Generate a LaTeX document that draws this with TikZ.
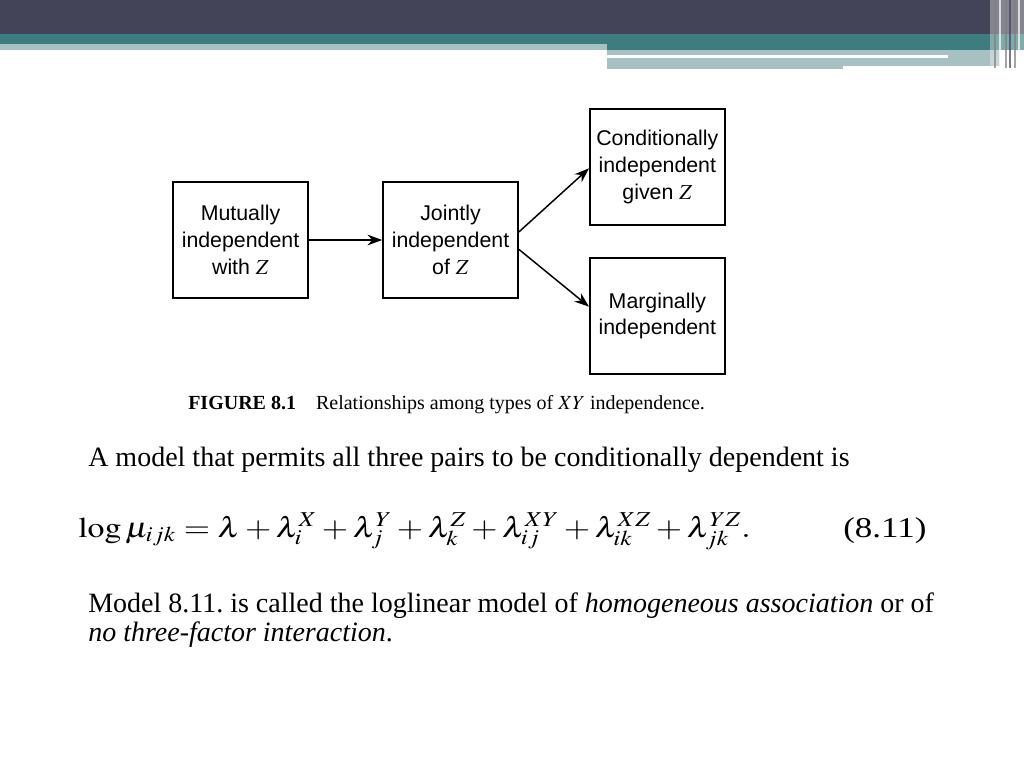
\documentclass[tikz,border=0pt]{standalone}
\usepackage{mathptmx}
\usepackage{fontspec}
\setmainfont{Liberation Serif}
\setsansfont{Liberation Sans}
\usetikzlibrary{positioning, arrows.meta}
\definecolor{barDark}{HTML}{434457}
\definecolor{barTeal}{HTML}{3E7D7F}
\definecolor{barLight}{HTML}{A7C1C3}
\tikzset{
    state_box/.style={draw, line width=1.5pt, minimum width=101pt, minimum height=87pt, inner sep=0pt, align=center, font=\sffamily\fontsize{16}{20}\selectfont},
    flow_arrow/.style={-{Stealth[length=11pt, width=8pt]}, line width=1.1pt, black},
    body_text/.style={anchor=base west, inner sep=0pt, font=\fontsize{21}{25}\selectfont},
    edge_line/.style={line width=1.2pt}
}
\frenchspacing

\begin{document}
\begin{tikzpicture}[x=0.75pt, y=-0.75pt]
    \useasboundingbox[fill=white] (0,0) rectangle (1024,768);
    % title bar
    \fill[barDark] (0,0) rectangle (1024,34);
    \fill[barTeal] (0,34) rectangle (607,44);
    \fill[barTeal] (607,34) rectangle (1024,50);
    \fill[barLight] (0,44) rectangle (607,50);
    \fill[barLight] (607,50) rectangle (1000,66);
    \fill[barLight] (607,58) rectangle (843,69);
    \fill[white] (607,55) rectangle (948,58);
    % edge lines
    \fill[white, opacity=0.35] (990,0) rectangle (1024,70);
    \foreach \x/\c in {995/gray, 1000/white, 1006/gray, 1010/barDark, 1015/gray, 1019/white}
        \draw[\c, edge_line, opacity=0.7] (\x,0) -- (\x,68);

    % figure 8.1
    \node[state_box] (mutual) at (240.5,240) {Mutually\\independent\\with $Z$};
    \node[state_box] (joint) at (450.5,240) {Jointly\\independent\\of $Z$};
    \node[state_box, anchor=north west] (cond) at (589,108) {Conditionally\\independent\\given $Z$};
    \node[state_box, anchor=north west] (marg) at (589,257) {Marginally\\independent};
    \draw[flow_arrow] (mutual) -- (joint);
    \draw[flow_arrow] ([yshift=6pt]joint.east) -- ([yshift=-1pt]cond.west);
    \draw[flow_arrow] ([yshift=-7pt]joint.east) -- ([yshift=7pt]marg.west);
    \node[anchor=base west, inner sep=0pt, font=\fontsize{15}{18}\selectfont] (caption) at (188,409)
        {\textbf{FIGURE 8.1}\hspace{1em}Relationships among types of $XY$ independence.};

    % text
    \node[body_text] (line1) at (88,466) {A model that permits all three pairs to be conditionally dependent is};
    \node[anchor=base west, inner sep=0pt, transform shape, xscale=1.18, font=\fontsize{21.5}{25}\selectfont] (model) at (78,537)
        {$\log\mu_{ijk}=\lambda+\lambda_i^X+\lambda_j^Y+\lambda_k^Z+\lambda_{ij}^{XY}+\lambda_{ik}^{XZ}+\lambda_{jk}^{YZ}.$};
    \node[anchor=base west, inner sep=0pt, transform shape, xscale=1.22, font=\fontsize{21.5}{25}\selectfont] (number) at (843,537) {(8.11)};
    \node[body_text] (line2) at (88,612) {Model 8.11. is called the loglinear model of \textit{homogeneous association} or of};
    \node[body_text] (line3) at (88,641) {\textit{no three-factor interaction}.};
\end{tikzpicture}
\end{document}
